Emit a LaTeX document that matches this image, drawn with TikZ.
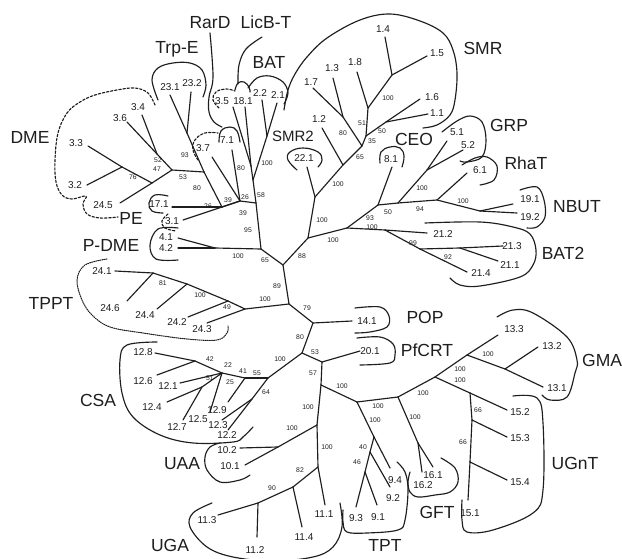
\documentclass[tikz,border=0pt]{standalone}
\usepackage{fontspec}
\setmainfont{Liberation Sans}
\definecolor{ink}{RGB}{30,30,30}
\begin{document}
\begin{tikzpicture}[x=1pt,y=-1pt,
  edge/.style={line width=1.15pt, draw=ink, line cap=round},
  outl/.style={line width=1.15pt, draw=ink, line cap=round},
  dsh/.style={outl, dash pattern=on 2.4pt off 1.8pt},
  dotl/.style={outl, line width=1.05pt, dash pattern=on 1pt off 1.1pt},
  leaf/.style={font=\fontsize{10}{11}\selectfont, inner sep=0pt, text height=7.1pt, text depth=0pt, text=ink},
  bs/.style={font=\fontsize{6.8}{7}\selectfont, inner sep=0pt, text height=4.9pt, text depth=0pt, text=ink},
  grp/.style={font=\fontsize{17.5}{18}\selectfont, inner sep=0pt, text height=12.5pt, text depth=0pt, text=ink}]
\useasboundingbox (0,0) rectangle (622,559);
\fill[white] (0,0) rectangle (622,559);
% ---------- leaf end points ----------
\coordinate (e33) at (88,146);  \coordinate (e32) at (87,185);
\coordinate (e36) at (127,122); \coordinate (e34) at (142,115);
\coordinate (e245) at (120,203);\coordinate (e231) at (170,95);
\coordinate (e232) at (191,92); \coordinate (e171) at (172,207);
\coordinate (e31) at (183,220); \coordinate (e41) at (178,238);
\coordinate (e42) at (178,248); \coordinate (e37) at (212,157);
\coordinate (e71) at (232,150); \coordinate (e35) at (233,107);
\coordinate (e181) at (245,107);\coordinate (e22) at (262,100);
\coordinate (e21) at (277,103); \coordinate (e14) at (385,37);
\coordinate (e15) at (427,56);  \coordinate (e18) at (357,72);
\coordinate (e13) at (333,78);  \coordinate (e17) at (313,88);
\coordinate (e12) at (322,128); \coordinate (e16) at (420,99);
\coordinate (e11) at (428,114); \coordinate (e221) at (307,167);
\coordinate (e81) at (392,167); \coordinate (e51) at (447,141);
\coordinate (e52) at (463,150); \coordinate (e61) at (467,173);
\coordinate (e191) at (513,204);\coordinate (e192) at (517,213);
\coordinate (e212) at (427,233);\coordinate (e213) at (503,246);
\coordinate (e211) at (498,261);\coordinate (e214) at (467,272);
\coordinate (e141) at (352,321);\coordinate (e201) at (360,351);
\coordinate (e133) at (498,335);\coordinate (e132) at (538,347);
\coordinate (e131) at (543,387);\coordinate (e152) at (507,410);
\coordinate (e153) at (507,437);\coordinate (e154) at (507,480);
\coordinate (e151) at (468,500);\coordinate (e161) at (433,467);
\coordinate (e162) at (422,472);\coordinate (e94) at (390,468);
\coordinate (e92) at (390,487); \coordinate (e93) at (356,507);
\coordinate (e91) at (377,505); \coordinate (e111) at (325,505);
\coordinate (e114) at (302,527);\coordinate (e112) at (257,537);
\coordinate (e113) at (218,515);\coordinate (e102) at (240,448);
\coordinate (e101) at (245,465);\coordinate (e128) at (155,353);
\coordinate (e126) at (157,375);\coordinate (e121) at (180,383);
\coordinate (e124) at (167,402);\coordinate (e127) at (183,420);
\coordinate (e125) at (210,412);\coordinate (e129) at (228,402);
\coordinate (e123) at (222,420);\coordinate (e122) at (228,430);
\coordinate (e241) at (115,271);\coordinate (e246) at (127,301);
\coordinate (e244) at (157,309);\coordinate (e242) at (188,317);
\coordinate (e243) at (207,323);
% ---------- internal nodes ----------
\coordinate (D3) at (122,167); \coordinate (D4) at (152,183);
\coordinate (D1) at (157,154); \coordinate (D2) at (172,170);
\coordinate (TR1) at (187,133);\coordinate (J5) at (204,172);
\coordinate (J1) at (222,207); \coordinate (J4) at (240,201);
\coordinate (V1) at (256,203); \coordinate (V0) at (253,180);
\coordinate (X35) at (251,166);\coordinate (B1) at (267,136);
\coordinate (P1) at (261,249); \coordinate (PD) at (215,248);
\coordinate (R1) at (283,265); \coordinate (Q1) at (308,238);
\coordinate (R2) at (289,304);
\coordinate (S1) at (392,75);  \coordinate (S2) at (368,108);
\coordinate (S3) at (386,122); \coordinate (S4) at (366,136);
\coordinate (S5) at (343,117); \coordinate (Q4) at (362,146);
\coordinate (Q3) at (343,165); \coordinate (Q2) at (315,197);
\coordinate (N1) at (347,228); \coordinate (B2a) at (385,230);
\coordinate (B2b) at (420,249);\coordinate (B2c) at (460,248);
\coordinate (N2) at (378,205); \coordinate (N3) at (398,203);
\coordinate (G5) at (427,170); \coordinate (N4) at (437,200);
\coordinate (N5) at (480,211);
\coordinate (T0) at (245,309); \coordinate (T2) at (228,301);
\coordinate (T3) at (187,284); \coordinate (TT1) at (153,273);
\coordinate (R3) at (313,323); \coordinate (R4) at (302,353);
\coordinate (R5) at (322,362); \coordinate (M1) at (321,385);
\coordinate (C0) at (268,378); \coordinate (C64) at (252,399);
\coordinate (C55) at (245,378);\coordinate (C41) at (222,373);
\coordinate (C42) at (195,361);\coordinate (C51) at (202,387);
\coordinate (M2) at (357,402); \coordinate (M3) at (398,397);
\coordinate (M4) at (435,377); \coordinate (G0) at (467,355);
\coordinate (GM1) at (505,369);\coordinate (U0) at (470,393);
\coordinate (U1) at (472,420); \coordinate (U2) at (470,462);
\coordinate (F1) at (418,443); \coordinate (P40) at (374,437);
\coordinate (X92) at (370,452);\coordinate (X91) at (365,472);
\coordinate (V2) at (317,425); \coordinate (UA1) at (278,447);
\coordinate (V3) at (318,467); \coordinate (G1) at (293,487);
\coordinate (G2) at (258,503);
% ---------- branches ----------
\foreach \a/\b in {e33/D3,e32/D3,D3/D4,e245/D4,D4/D2,e36/D1,e34/D1,D1/D2,D2/J5,
  e231/TR1,e232/TR1,TR1/J5,J5/J1,e171/J1,J1/J4,e31/J4,e37/J4,e71/J4,J4/V1,
  e181/X35,X35/V0,e35/X35,e22/B1,e21/B1,B1/V0,V0/V1,V1/P1,e41/PD,e42/PD,PD/P1,
  P1/R1,R1/Q1,R1/R2,
  e14/S1,e15/S1,S1/S2,e18/S2,S2/S4,e16/S3,e11/S3,S3/S4,S4/Q4,e17/S5,e13/S5,S5/Q4,
  Q4/Q3,e12/Q3,Q3/Q2,e221/Q2,Q2/Q1,Q1/N1,N1/B2a,B2a/e212,B2a/B2b,B2b/e214,B2b/B2c,
  B2c/e213,B2c/e211,N1/N2,N2/e81,N2/N3,N3/G5,G5/e51,G5/e52,N3/N4,N4/e61,N4/N5,
  N5/e191,N5/e192,
  R2/T0,T0/e243,T0/T2,T2/e242,T2/T3,T3/e244,T3/TT1,TT1/e246,TT1/e241,
  R2/R3,R3/e141,R3/R4,R4/R5,R5/e201,R5/M1,R4/C0,C0/C64,C64/e123,C64/e122,C0/C55,
  C55/e129,C55/C41,C41/e125,C41/e121,C41/C51,C51/e124,C51/e127,C41/C42,C42/e128,C42/e126,
  M1/M2,M2/M3,M3/M4,M4/G0,G0/e133,G0/GM1,GM1/e131,GM1/e132,M4/U0,U0/e152,U0/U1,
  U1/e153,U1/U2,U2/e154,U2/e151,M3/F1,F1/e161,F1/e162,M2/P40,P40/e94,P40/X92,
  X92/e92,X92/X91,X91/e93,X91/e91,M1/V2,V2/UA1,UA1/e102,UA1/e101,V2/V3,V3/e111,
  V3/G1,G1/e114,G1/G2,G2/e112,G2/e113}
  {\draw[edge] (\a) -- (\b);}
% ---------- outlines ----------
\draw[outl] plot[smooth,tension=0.6] coordinates {(284,110) (288,90) (295,74) (307,57) (327,38) (360,20) (390,14) (420,21) (443,33) (453,50) (457,73) (455,100) (450,115) (437,125) (423,128)};
\draw[outl] plot[smooth,tension=0.6] coordinates {(248,88) (257,78) (270,76) (283,82) (288,93) (284,104)};
\draw[outl] plot[smooth,tension=0.6] coordinates {(262,37) (246,49) (239,65) (238,84)};
\draw[outl] plot[smooth,tension=0.7] coordinates {(235,90) (238,83) (244,82) (249,87) (250,92)};
\draw[outl] plot[smooth,tension=0.6] coordinates {(210,33) (213,77) (209,97) (209,112) (214,122) (222,127)};
\draw[outl] plot[smooth,tension=0.7] coordinates {(219,142) (221,131) (230,127) (237,131) (240,142)};
\draw[dsh] plot[smooth,tension=0.7] coordinates {(219,108) (213,100) (216,92) (226,89) (235,91)};
\draw[dsh] plot[smooth,tension=0.7] coordinates {(198,160) (193,150) (195,140) (205,133) (218,133)};
\draw[outl] plot[smooth,tension=0.6] coordinates {(158,100) (152,80) (158,68) (173,63) (190,63) (202,70) (206,85) (203,97)};
\draw[dsh] plot[smooth,tension=0.6] coordinates {(155,105) (148,93) (135,88) (117,90) (95,95) (80,102) (67,113) (58,133) (55,160) (56,182) (62,195) (72,199) (86,196) (83,204) (87,214) (100,218) (118,217)};
\draw[outl] plot[smooth,tension=0.7] coordinates {(168,196) (155,195) (149,203) (152,211) (163,213)};
\draw[dsh] plot[smooth,tension=0.7] coordinates {(168,214) (162,221) (165,228) (176,231)};
\draw[outl] plot[smooth,tension=0.6] coordinates {(178,228) (158,229) (150,245) (156,259) (178,260)};
\draw[dotl] plot[smooth,tension=0.6] coordinates {(107,259) (85,265) (77,280) (82,300) (92,315) (110,327) (143,333) (187,339) (217,340) (227,333) (228,326)};
\draw[outl] plot[smooth,tension=0.7] coordinates {(297,170) (288,160) (290,152) (303,148) (318,152) (322,160) (318,167)};
\draw[outl] plot[smooth,tension=0.7] coordinates {(380,163) (381,152) (390,147) (400,148) (404,156) (402,167)};
\draw[outl] plot[smooth,tension=0.6] coordinates {(442,132) (457,121) (470,116) (482,122) (486,140) (482,157) (467,162) (460,161)};
\draw[outl] plot[smooth,tension=0.6] coordinates {(462,165) (475,158) (487,157) (497,166) (494,180) (480,185)};
\draw[outl] plot[smooth,tension=0.6] coordinates {(520,190) (537,187) (544,200) (545,217) (537,227) (527,228)};
\draw[outl] plot[smooth,tension=0.6] coordinates {(425,223) (480,222) (513,227) (530,234) (536,250) (533,265) (520,277) (480,286) (460,285) (450,278)};
\draw[outl] plot[smooth,tension=0.6] coordinates {(355,308) (380,307) (389,316) (387,327) (370,332) (355,333)};
\draw[outl] plot[smooth,tension=0.6] coordinates {(357,338) (380,337) (393,344) (395,355) (390,363) (360,365)};
\draw[outl] plot[smooth,tension=0.6] coordinates {(497,317) (513,310) (533,313) (567,337) (577,360) (575,373) (567,397) (550,400) (542,395)};
\draw[outl] plot[smooth,tension=0.6] coordinates {(513,396) (537,398) (543,423) (543,490) (533,513) (493,530) (467,532) (462,520) (462,500)};
\draw[outl] plot[smooth,tension=0.6] coordinates {(441,458) (455,468) (458,482) (450,492) (435,495) (418,497) (410,492) (408,482) (410,472)};
\draw[outl] plot[smooth,tension=0.6] coordinates {(397,462) (405,472) (408,490) (405,520) (398,530) (367,533) (347,532) (343,522) (343,510)};
\draw[outl] plot[smooth,tension=0.6] coordinates {(212,503) (193,513) (190,527) (207,547) (233,557) (273,561) (313,557) (333,547) (342,527) (340,503)};
\draw[outl] plot[smooth,tension=0.6] coordinates {(220,443) (210,447) (205,457) (207,470) (220,482) (240,480) (250,475)};
\draw[outl] plot[smooth,tension=0.6] coordinates {(157,342) (127,345) (120,360) (122,393) (133,417) (160,435) (193,443) (233,442) (243,437) (253,427)};
% ---------- bootstrap values ----------
\foreach \x/\y/\lab [count=\i] in {158/160.5/52, 157/169.5/47, 133/177/76, 183/177/53, 185/155/93, 197/188/80,
  208/206/26, 228/200/39, 245/197/26, 243/213/39, 248/230/95, 241/168/80, 267/163/100, 261/195/58,
  238/256/100, 265/260/65, 302/256/88, 277/286/89, 265/299/100, 163/283/81, 200/295/100, 227/307/49,
  307/308/79, 300/337/80, 315/352/53, 280/359/100, 313/373/57, 342/386/100, 210/359/42, 228/365/22,
  243/371/41, 257/373/55, 210/378/51, 230/382/25, 266/392/64, 308/407/100, 292/428/100, 327/447/100,
  300/470/82, 272/488/90, 378/406/100, 375/420/100, 415/417/100, 423/393/100, 363/447/40, 357/462/46,
  460/369/100, 460/380/100, 488/354/100, 478/410/66, 463/442/66, 388/98/100, 362/123/51, 382/131/50,
  372/141/35, 343/133/80, 360/157/65, 338/184/100, 322/220/100, 333/240/100, 370/218/93, 372/227/100,
  388/212/50, 420/209/94, 422/188/100, 463/201/100, 413/243/99, 448/257/92}
  {\node[bs] (bs\i) at (\x,\y) {\lab};}
% ---------- leaf labels ----------
\foreach \x/\y/\lab [count=\i] in {76/143/3.3, 75/185/3.2, 120/118/3.6, 138/107/3.4, 103/205/24.5,
  170/87/23.1, 192/83/23.2, 159/204/17.1, 172/221/3.1, 166/237/4.1, 166/248/4.2, 203/148/3.7,
  227/140/7.1, 222/101/3.5, 243/101/18.1, 260/93/2.2, 278/95/2.1, 383/29/1.4, 437/53/1.5, 355/62/1.8,
  332/68/1.3, 311/82/1.7, 319/119/1.2, 432/97/1.6, 437/113/1.1, 304/158/22.1, 391/159/8.1, 457/132/5.1,
  468/145/5.2, 480/170/6.1, 530/199/19.1, 530/217/19.2, 443/234/21.2, 512/246/21.3, 510/265/21.1,
  481/273/21.4, 367/321/14.1, 370/351/20.1, 514/329/13.3, 552/346/13.2, 557/388/13.1, 520/412/15.2,
  520/438/15.3, 520/482/15.4, 470/513/15.1, 433/475/16.1, 423/485/16.2, 395/480/9.4, 393/498/9.2,
  356/518/9.3, 378/517/9.1, 324/514/11.1, 304/537/11.4, 255/550/11.2, 207/520/11.3, 227/450/10.2,
  230/466/10.1, 143/352/12.8, 143/381/12.6, 168/386/12.1, 152/407/12.4, 177/427/12.7, 198/419/12.5,
  217/410/12.9, 218/425/12.3, 227/435/12.2, 102/271/24.1, 110/308/24.6, 145/315/24.4, 177/322/24.2,
  202/329/24.3}
  {\node[leaf] (lf\i) at (\x,\y) {\lab};}
% ---------- group labels ----------
\node[grp] (gDME) at (30,137) {DME};
\node[grp] (gTrpE) at (177,47) {Trp-E};
\node[grp] (gRarD) at (210,22) {RarD};
\node[grp] (gLicB) at (266,22) {LicB-T};
\node[grp] (gBAT) at (269,62) {BAT};
\node[grp, font=\fontsize{15}{16}\selectfont, text height=10.8pt] (gSMR2) at (293,136) {SMR2};
\node[grp] (gSMR) at (483,48) {SMR};
\node[grp] (gCEO) at (414,139) {CEO};
\node[grp] (gGRP) at (509,125) {GRP};
\node[grp] (gRhaT) at (526,163) {RhaT};
\node[grp] (gNBUT) at (577,206) {NBUT};
\node[grp] (gBAT2) at (563,253) {BAT2};
\node[grp] (gPE) at (131,218) {PE};
\node[grp] (gPDME) at (111,245) {P-DME};
\node[grp] (gTPPT) at (51,303) {TPPT};
\node[grp] (gPOP) at (425,317) {POP};
\node[grp] (gPfCRT) at (427,350) {PfCRT};
\node[grp, anchor=west] (gGMA) at (582,360) {GMA};
\node[grp] (gCSA) at (98,400) {CSA};
\node[grp] (gUAA) at (182,463) {UAA};
\node[grp] (gUGnT) at (575,463) {UGnT};
\node[grp] (gGFT) at (437,512) {GFT};
\node[grp] (gTPT) at (385,545) {TPT};
\node[grp] (gUGA) at (170,545) {UGA};
\end{tikzpicture}
\end{document}
